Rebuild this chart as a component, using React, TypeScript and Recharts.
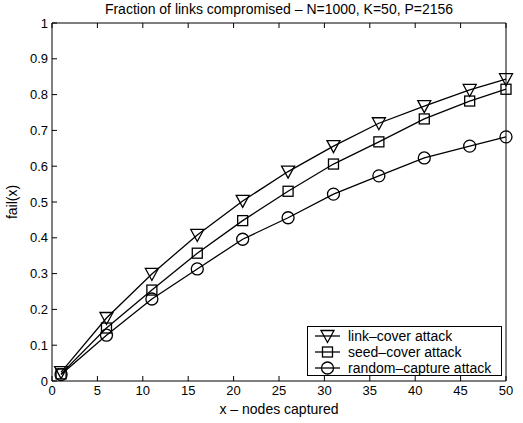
import { LineChart, Line, XAxis, YAxis } from 'recharts'

const xs = [1, 6, 11, 16, 21, 26, 31, 36, 41, 46, 50]
const linkCover = [0.025, 0.176, 0.299, 0.408, 0.503, 0.585, 0.656, 0.72, 0.768, 0.813, 0.843]
const seedCover = [0.02, 0.148, 0.254, 0.357, 0.448, 0.53, 0.606, 0.668, 0.732, 0.782, 0.815]
const randomCapture = [0.018, 0.128, 0.229, 0.313, 0.396, 0.456, 0.522, 0.573, 0.623, 0.656, 0.682]

const xTicks = [0, 5, 10, 15, 20, 25, 30, 35, 40, 45, 50]
const yTicks = [0, 0.1, 0.2, 0.3, 0.4, 0.5, 0.6, 0.7, 0.8, 0.9, 1]

const data = xs.map((x, i) => ({
  x,
  link: linkCover[i],
  seed: seedCover[i],
  rand: randomCapture[i],
}))

const FONT = '"Liberation Sans", Arial, Helvetica, sans-serif'

type Shape = 'tri' | 'sq' | 'circ'

const Marker = ({ cx, cy, shape }: { cx?: number; cy?: number; shape: Shape }) => {
  if (cx == null || cy == null) return null
  const common = { fill: 'none', stroke: '#000', strokeWidth: 1.3 }
  if (shape === 'tri')
    return <path d={`M${cx - 6.5},${cy - 5.5} L${cx + 6.5},${cy - 5.5} L${cx},${cy + 6.5} Z`} {...common} />
  if (shape === 'sq')
    return <rect x={cx - 5} y={cy - 5} width={10} height={10} {...common} />
  return <circle cx={cx} cy={cy} r={6} {...common} />
}

const series: { key: string; name: string; shape: Shape }[] = [
  { key: 'link', name: 'link–cover attack', shape: 'tri' },
  { key: 'seed', name: 'seed–cover attack', shape: 'sq' },
  { key: 'rand', name: 'random–capture attack', shape: 'circ' },
]

const tickStyle = { fill: '#000', fontSize: 13, fontFamily: FONT }
const axisLine = { stroke: '#000', strokeWidth: 1 }

export default function App() {
  return (
    <div style={{ position: 'absolute', left: 0, top: 0, width: 523, height: 423, background: '#fff', fontFamily: FONT }}>
      <LineChart width={523} height={423} data={data} margin={{ top: 22, right: 16, bottom: 0, left: 0 }}>
        <XAxis
          dataKey="x"
          type="number"
          domain={[0, 50]}
          ticks={xTicks}
          height={42}
          tickSize={-5}
          tickMargin={10}
          tick={tickStyle}
          axisLine={axisLine}
          tickLine={axisLine}
          label={{ value: 'x – nodes captured', position: 'insideBottom', offset: 9, fill: '#000', fontSize: 14, fontFamily: FONT }}
        />
        <XAxis
          xAxisId="top"
          orientation="top"
          dataKey="x"
          type="number"
          domain={[0, 50]}
          ticks={xTicks}
          height={1}
          tickSize={-5}
          tickFormatter={() => ''}
          axisLine={axisLine}
          tickLine={axisLine}
        />
        <YAxis
          type="number"
          domain={[0, 1]}
          ticks={yTicks}
          width={52}
          tickSize={-5}
          tickMargin={9}
          tick={tickStyle}
          axisLine={axisLine}
          tickLine={axisLine}
          label={{
            content: ({ viewBox }: any) => (
              <text
                x={12}
                y={viewBox.y + viewBox.height / 2}
                transform={`rotate(-90, 12, ${viewBox.y + viewBox.height / 2})`}
                textAnchor="middle"
                dominantBaseline="central"
                fontSize={14}
                fontFamily={FONT}
                fill="#000"
              >
                fail(x)
              </text>
            ),
          }}
        />
        <YAxis
          yAxisId="right"
          orientation="right"
          type="number"
          domain={[0, 1]}
          ticks={yTicks}
          width={1}
          tickSize={-5}
          tickFormatter={() => ''}
          axisLine={axisLine}
          tickLine={axisLine}
        />
        {series.map(s => (
          <Line
            key={s.key}
            dataKey={s.key}
            name={s.name}
            type="linear"
            stroke="#000"
            strokeWidth={1.3}
            dot={(p: any) => <Marker key={`${s.key}-${p.index}`} cx={p.cx} cy={p.cy} shape={s.shape} />}
            activeDot={false}
            isAnimationActive={false}
          />
        ))}
      </LineChart>
      <div style={{ position: 'absolute', zIndex: 2, left: 52, width: 454, top: 1, lineHeight: '16px', textAlign: 'center', fontSize: 14, color: '#000' }}>
        Fraction of links compromised – N=1000, K=50, P=2156
      </div>
      <div
        style={{
          position: 'absolute', zIndex: 2, left: 307, top: 326, width: 195, height: 50,
          border: '1px solid #000', background: '#fff', boxSizing: 'border-box',
          padding: '1px 0 0 0',
        }}
      >
        {series.map(s => (
          <div key={s.key} style={{ display: 'flex', alignItems: 'center', height: 16, fontSize: 14, color: '#000', whiteSpace: 'nowrap' }}>
            <svg width={40} height={16} style={{ flex: 'none' }}>
              <line x1={7} x2={32} y1={8} y2={8} stroke="#000" strokeWidth={1.3} />
              <Marker cx={19.5} cy={8} shape={s.shape} />
            </svg>
            <span>{s.name}</span>
          </div>
        ))}
      </div>
    </div>
  )
}
